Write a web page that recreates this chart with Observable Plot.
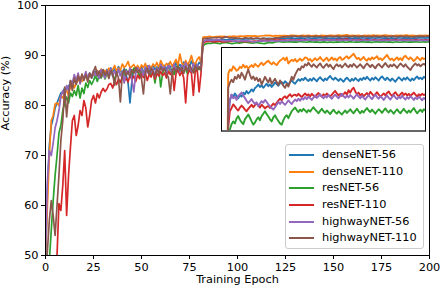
<!DOCTYPE html>
<html><head><meta charset="utf-8">
<script src="https://cdn.jsdelivr.net/npm/d3@7"></script>
<script src="https://cdn.jsdelivr.net/npm/@observablehq/plot@0.6"></script>
<style>
body{margin:0;background:#fff;font-family:"DejaVu Sans",sans-serif;}
#wrap{position:relative;width:440px;height:292px;overflow:hidden;}
#main{position:absolute;left:0;top:0;}
#inset{position:absolute;left:221px;top:48px;width:204px;height:83px;background:#fff;overflow:hidden;}
#insetBorder{position:absolute;left:221px;top:47px;width:205px;height:85px;box-sizing:border-box;border:1.3px solid #000;border-bottom:2px solid #666;pointer-events:none;}
#legend{position:absolute;left:285px;top:144px;width:139px;height:105px;box-sizing:border-box;border:1px solid #ccc;border-radius:3px;background:rgba(255,255,255,0.8);}
.row{position:absolute;left:0;height:16px;width:137px;font-size:11.3px;color:#000;}
.sw{position:absolute;left:3px;top:7px;width:25px;height:2px;}
.lb{position:absolute;left:36px;top:0;line-height:16px;white-space:nowrap;}
</style></head><body>
<div id="wrap"><div id="main"></div><div id="inset"></div><div id="insetBorder"></div><div id="legend"></div></div>
<script>
const models = ["denseNET-56","denseNET-110","resNET-56","resNET-110","highwayNET-56","highwayNET-110"];
const colors = ["#1f77b4","#ff7f0e","#2ca02c","#d62728","#9467bd","#8c564b"];
const xTicks = [0,25,50,75,100,125,150,175,200];
const yTicks = [50,60,70,80,90,100];

const denseNet56 = [
48,63,72,76,77.5,79.5,80.5,81.5,82.5,82.7,
83.5,83.1,84,83.5,84.3,85,84.6,85.3,85,85.8,
85.4,86,85.8,86.4,85.5,86.2,86.8,85.9,86.5,87,
86.9,86.3,87.2,86.6,87.5,86.8,87.3,86.5,87.8,87,
86.6,87.4,86.2,84.5,80.5,85,87.3,86.8,87.6,87,
87.8,86.5,87.3,87.9,86.8,87.5,88,87.2,87.7,86.9,
88.3,87.4,88,87.1,88.4,87.6,88.1,87.3,88.6,87.8,
88.2,87.5,88.7,87.9,88.3,87.6,88.9,88.1,88.5,87.8,
88.6,88.2,
92.60,92.95,93.11,93.05,93.14,93.08,93.02,93.10,93.06,93.16,
93.12,93.20,93.14,93.18,93.24,93.19,93.27,93.31,93.36,93.30,
93.34,93.28,93.33,93.38,93.32,93.36,93.30,93.35,93.41,93.37,
93.33,93.39,93.42,93.38,93.44,93.40,93.36,93.42,93.46,93.41,
93.38,93.44,93.49,93.45,93.50,93.47,93.53,93.48,93.45,93.50,
93.46,93.52,93.48,93.44,93.50,93.54,93.49,93.45,93.51,93.47,
93.53,93.57,93.51,93.48,93.53,93.49,93.45,93.50,93.47,93.43,
93.49,93.53,93.48,93.44,93.50,93.46,93.52,93.48,93.45,93.51,
93.47,93.53,93.49,93.55,93.50,93.46,93.52,93.48,93.54,93.50,
93.46,93.52,93.56,93.51,93.47,93.53,93.49,93.45,93.51,93.47,
93.43,93.49,93.54,93.50,93.46,93.52,93.48,93.54,93.49,93.45,
93.51,93.47,93.52,93.56,93.50,93.53,93.49,93.55,93.52];

const denseNet110 = [
50,60,70,77,78,80.3,80.5,80,82,81.5,
82.5,83,82,84,84.7,83.5,84.5,85,85.7,84.8,
85.5,86,85.2,86.3,85.8,86.5,86,87,86.2,87.3,
86.5,87,86.3,87.5,86.8,87.2,88,86.8,87.5,87,
88.3,87.6,88,88.8,87.5,87.8,88.2,87.4,88,87.2,
88.1,87.6,88.4,87.3,88,87.5,88.3,87.8,88.6,87.5,
89,88.2,87.6,88.4,88,88.8,87.8,88.5,89.2,88,
90.3,88.5,88,89,88.2,88.8,90,88.5,88.3,89.2,
89.7,88.5,
93.62,93.73,93.70,93.81,93.76,93.70,93.73,93.80,93.77,93.85,
93.78,93.82,93.75,93.80,93.84,93.79,93.87,93.83,93.80,93.86,
93.90,93.84,93.88,93.92,93.95,93.89,93.86,93.91,93.87,93.84,
93.90,93.95,93.98,94.02,93.96,94.03,93.88,93.93,93.97,93.94,
93.99,93.92,93.96,94.00,93.95,93.98,94.03,94.02,93.96,93.99,
93.93,93.97,94.01,93.96,93.99,94.04,93.98,93.94,93.99,94.02,
93.95,93.98,94.03,93.97,94.00,93.95,94.01,94.04,93.97,93.99,
94.03,94.06,94.00,94.04,94.08,94.12,94.05,93.99,94.02,93.96,
94.00,94.04,93.98,93.95,94.01,93.97,94.03,93.99,94.02,94.06,
93.98,94.01,93.96,94.00,94.05,94.09,94.02,93.97,94.00,93.95,
93.99,94.03,93.97,94.01,93.96,94.04,94.07,94.02,93.98,94.03,
93.99,93.94,93.98,94.04,94.00,93.96,94.02,93.99,94.01];

const resNet56 = [
38,44,49,55,61,66,70,74.5,76,79,
80.5,81.7,80.5,82.5,81.8,83,82,84,81.5,83.5,
82.4,84.5,83.6,85,84.2,85,86,84.8,86.2,85.5,
86.5,85.3,86.4,85.8,86.9,86,85.2,86.6,87,86.1,
86.8,85.9,87.2,86.4,87,86.2,87.5,86.7,87.2,85.6,
87,86.4,87.6,86.9,87.3,86.1,87.1,84.5,86.8,87.5,
83.7,86.5,87.3,86.6,87.8,86.9,87.4,86.2,87.9,87.1,
87.6,86.5,88,87.2,86.3,87.7,86.8,87.4,86.6,87.9,
87.2,87.6,
91.90,92.25,92.38,92.45,92.40,92.52,92.58,92.49,92.43,92.38,
92.50,92.56,92.62,92.54,92.45,92.37,92.42,92.50,92.55,92.48,
92.58,92.64,92.70,92.63,92.57,92.50,92.45,92.55,92.60,92.52,
92.46,92.40,92.37,92.48,92.56,92.60,92.53,92.62,92.70,92.75,
92.79,92.73,92.68,92.74,92.70,92.76,92.72,92.67,92.73,92.69,
92.75,92.80,92.74,92.70,92.65,92.71,92.76,92.70,92.66,92.72,
92.68,92.63,92.69,92.74,92.68,92.64,92.70,92.66,92.62,92.67,
92.72,92.66,92.70,92.75,92.69,92.65,92.71,92.76,92.70,92.65,
92.71,92.67,92.73,92.78,92.72,92.68,92.74,92.69,92.64,92.70,
92.75,92.71,92.66,92.72,92.77,92.71,92.67,92.73,92.69,92.64,
92.70,92.75,92.69,92.65,92.71,92.76,92.70,92.66,92.72,92.67,
92.73,92.78,92.71,92.65,92.70,92.74,92.68,92.75,92.72];

const resNet110 = [
30,35,38,42,45,48,50,60.4,59,64,
71,58,66,71.7,77,78,74,76,79,78,
81,79.5,75.7,78,81,82,80.5,82.4,81.5,82.7,
83.4,82.8,83.3,84.2,84.4,83.5,85,84.2,85.3,84.6,
85.8,84.9,85.5,84.7,86,85.2,85.9,84.8,86.1,85.4,
86.3,85.6,86.5,85,86.2,85.7,86.7,85.3,86.4,85.9,
86.8,86,86.5,85.5,86.9,86.2,87,83,86.4,87.1,
86,86.8,85.5,80.5,86.2,87,86.5,82,86.8,87.3,
82.7,86.5,
92.30,92.70,92.78,92.87,92.82,92.76,92.72,92.79,92.84,92.80,
92.74,92.70,92.76,92.81,92.86,92.80,92.85,92.90,92.84,92.79,
92.86,92.82,92.77,92.81,92.83,92.78,92.84,92.89,92.85,92.91,
92.96,93.01,92.97,93.04,93.07,93.02,93.08,93.12,93.06,93.10,
93.11,93.08,93.13,93.09,93.05,93.10,93.14,93.09,93.12,93.07,
93.13,93.09,93.05,93.11,93.15,93.10,93.06,93.12,93.08,93.14,
93.10,93.06,93.11,93.16,93.20,93.14,93.09,93.13,93.08,93.12,
93.17,93.11,93.22,93.16,93.24,93.28,93.19,93.12,93.16,93.09,
93.13,93.07,93.11,93.15,93.10,93.18,93.13,93.08,93.12,93.17,
93.11,93.06,93.10,93.14,93.09,93.15,93.19,93.12,93.08,93.13,
93.17,93.11,93.07,93.12,93.16,93.10,93.14,93.09,93.13,93.08,
93.12,93.16,93.11,93.07,93.12,93.09,93.13,93.10,93.12];

const highwayNet56 = [
50,65,71,70,72.5,75.5,77,79,81.7,83,
82,84,83,85,84.5,86.2,85,86.5,84.3,86,
85.5,86.8,85.3,86.5,85.8,87,86,86.8,85.4,87.2,
86.3,85.5,87,86.2,87.4,85.8,86.9,86.1,87.3,85.9,
86.8,84.5,87,86.3,87.5,85,82.7,86.4,87.6,86.8,
87.3,86,87.7,86.5,88,86.6,87.4,85.8,87.6,86.9,
88.2,87,87.8,86.4,88,87.3,86.5,88.3,87.1,87.8,
86.7,88.1,87.4,88.6,87,87.9,86.8,88.4,87.3,88.2,
87.5,88,
92.55,92.98,93.11,93.02,93.06,92.98,93.08,93.12,93.16,93.09,
93.03,92.96,92.90,92.95,93.00,92.93,92.88,92.92,92.83,92.89,
92.95,92.91,92.98,92.93,92.87,92.82,92.78,92.74,92.80,92.86,
92.93,92.88,92.94,92.90,92.86,92.91,92.97,92.92,92.88,92.94,
92.99,92.95,93.01,92.96,93.03,92.99,93.05,93.00,93.06,93.02,
92.98,93.04,93.09,93.03,93.07,93.12,93.06,93.02,93.08,93.04,
93.10,93.05,93.01,93.07,93.11,93.06,93.02,93.08,93.13,93.07,
93.03,93.09,93.04,93.10,93.06,93.01,93.07,93.12,93.06,93.02,
93.08,93.03,92.99,93.05,93.10,93.04,93.00,93.06,93.11,93.05,
93.01,93.07,93.03,92.98,93.04,93.09,93.03,92.99,93.05,93.10,
93.04,93.00,93.06,93.02,93.08,93.03,92.99,93.05,93.01,93.07,
93.03,92.98,93.04,93.00,93.06,93.02,92.97,93.03,93.00];

const highwayNet110 = [
45,51,57,61,58,54,60,66,73,77,
83.7,77.7,82,85,83,85.5,84.2,86,84.8,86.3,
85,86.2,84.7,86.5,85.5,86.8,87.8,86,86.9,85.7,
87.2,86.1,86.8,85.4,87,86.3,84,86.7,85.5,80.7,
86.3,87.1,86,86.8,85.7,87.2,86.4,87.6,86.6,87.1,
85.3,82.3,86.7,87.4,86.2,87.5,86.8,85.9,87.3,86.4,
87.7,86.9,87.4,86.3,85.6,82.3,86.8,87.5,86.6,87.9,
87,87.6,86.4,87.8,86.9,88.2,87.3,86.5,88,87.1,
87.7,87,
93.28,93.40,93.48,93.42,93.55,93.50,93.60,93.52,93.65,93.58,
93.48,93.62,93.73,93.60,93.50,93.56,93.47,93.53,93.44,93.50,
93.36,93.45,93.55,93.48,93.41,93.52,93.38,93.44,93.50,93.42,
93.35,93.46,93.40,93.33,93.28,93.38,93.31,93.42,93.55,93.48,
93.60,93.68,93.75,93.72,93.81,93.78,93.86,93.83,93.90,93.84,
93.80,93.86,93.82,93.78,93.84,93.88,93.81,93.77,93.83,93.87,
93.80,93.85,93.79,93.74,93.82,93.86,93.81,93.84,93.78,93.83,
93.88,93.82,93.79,93.85,93.80,93.87,93.83,93.78,93.82,93.86,
93.81,93.76,93.83,93.88,93.84,93.79,93.85,93.81,93.76,93.83,
93.87,93.82,93.78,93.84,93.89,93.83,93.79,93.85,93.81,93.86,
93.82,93.77,93.83,93.88,93.84,93.80,93.86,93.80,93.76,93.72,
93.79,93.84,93.88,93.83,93.86,93.81,93.85,93.87,93.84];

const seriesValues = [denseNet56, denseNet110, resNet56, resNet110, highwayNet56, highwayNet110];
const rows = [];
models.forEach((m, i) => seriesValues[i].forEach((v, e) => rows.push({model: m, epoch: e, acc: v})));

const font = '"DejaVu Sans", sans-serif';
const color = {domain: models, range: colors};

const main = Plot.plot({
  width: 440, height: 292,
  marginLeft: 45, marginRight: 11, marginTop: 5, marginBottom: 37,
  style: {fontFamily: font, fontSize: "11.3px", background: "transparent", overflow: "visible"},
  x: {domain: [0, 200]},
  y: {domain: [50, 100]},
  color,
  marks: [
    Plot.line(rows, {x: "epoch", y: "acc", stroke: "model", z: "model", strokeWidth: 1.7, clip: true}),
    Plot.frame({stroke: "#000", strokeWidth: 1}),
    Plot.axisX({ticks: xTicks, tickSize: 4, tickPadding: 3, label: null, fontSize: 11.3, tickFormat: d => String(d)}),
    Plot.axisY({ticks: yTicks, tickSize: 4, tickPadding: 3, label: null, fontSize: 11.3, tickFormat: d => String(d)}),
    Plot.text(["Training Epoch"], {text: d => d, frameAnchor: "bottom", dy: 27, fontSize: 11.3, fill: "#000"}),
    Plot.text(["Accuracy (%)"], {text: d => d, frameAnchor: "left", dx: -40.5, rotate: -90, fontSize: 11.3, fill: "#000"})
  ]
});
document.getElementById("main").appendChild(main);

const inset = Plot.plot({
  width: 204, height: 83, margin: 0,
  style: {background: "#fff"},
  x: {domain: [78, 200], axis: null},
  y: {domain: [92.2, 94.25], axis: null},
  color,
  marks: [
    Plot.line(rows, {x: "epoch", y: "acc", stroke: "model", z: "model", strokeWidth: 1.9, clip: true})
  ]
});
document.getElementById("inset").appendChild(inset);

const legend = document.getElementById("legend");
models.forEach((m, i) => {
  const r = document.createElement("div");
  r.className = "row";
  r.style.top = (2 + i * 16.67) + "px";
  r.innerHTML = `<div class="sw" style="background:${colors[i]}"></div><div class="lb">${m}</div>`;
  legend.appendChild(r);
});
</script>
</body></html>
